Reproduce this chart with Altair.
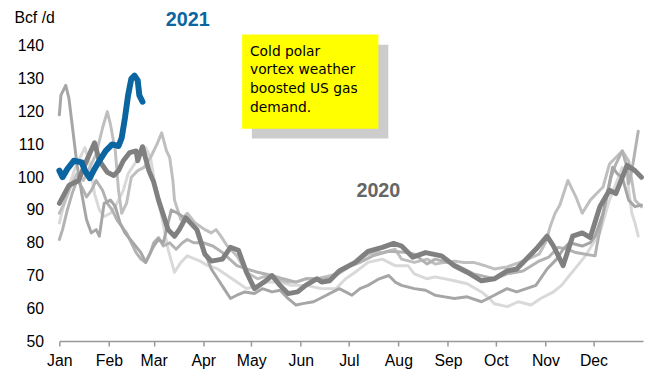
import altair as alt
import pandas as pd

# ---------------- data ----------------
month_names = ["Jan", "Feb", "Mar", "Apr", "May", "Jun", "Jul", "Aug", "Sep", "Oct", "Nov", "Dec"]
month_start_days = [0, 31, 59, 90, 120, 151, 181, 212, 243, 273, 304, 334]
y_ticks = [50, 60, 70, 80, 90, 100, 110, 120, 130, 140]

# historical years (grey spaghetti), day-of-year vs Bcf/d
hist_a_days = [0, 1, 4, 6, 9, 11, 14, 17, 20, 23, 25, 28, 32, 35, 38, 41, 46, 51, 54, 59,
               62, 65, 70, 74, 80, 87, 91, 95, 99, 103, 107, 111, 116, 122, 127, 133, 138, 143, 148, 153,
               159, 167, 175, 179, 183, 188, 193, 200, 206, 210, 214, 222, 229, 235, 241, 247, 255, 264, 268, 272,
               276, 280, 286, 292, 298, 305, 311, 315, 319, 327, 332, 335, 340, 343, 346, 349, 352, 356, 360, 364]
hist_a_vals = [119, 125, 128, 124, 112, 104, 95, 87, 83, 84, 82, 92, 93, 91, 86, 83, 80, 77, 74, 79,
               81, 80, 90, 89, 87, 83, 77, 72, 69, 66, 63, 64, 65, 64.5, 66, 65, 65.5, 63, 61, 61.5,
               62, 64, 66, 65, 64, 66, 67, 69, 70, 68, 67, 66, 65.5, 64, 63.5, 63, 63.5, 62, 63, 64,
               65, 66, 65, 66, 67, 72, 75, 78, 80, 79, 80, 82, 89, 96, 103, 101, 100, 93, 91, 91.5]

hist_b_days = [0, 3, 7, 11, 15, 20, 23, 27, 30, 32, 35, 37, 39, 42, 45, 49, 53, 57, 61, 64,
               67, 69, 71, 72, 76, 80, 85, 91, 95, 98, 101, 105, 111, 117, 124, 130, 136, 142, 148, 154,
               161, 170, 179, 185, 193, 198, 202, 210, 214, 222, 230, 235, 241, 247, 253, 259, 266, 272, 280, 290,
               300, 304, 307, 310, 313, 318, 323, 327, 332, 336, 340, 344, 348, 352, 356, 360, 364]
hist_b_vals = [89, 92, 97, 101, 99, 104, 107, 115, 120, 116, 108, 96, 89, 92, 100, 102, 103, 106, 110, 113.5,
               108, 106, 99, 93, 87, 89, 86, 84, 83, 84, 82, 79, 76, 71, 69, 70, 69, 68, 68, 69,
               69, 70, 72, 74, 76.5, 77, 77, 78, 75, 74, 75, 73.5, 74, 74.4, 74, 74, 73, 72, 72.6, 74.4,
               76.5, 80, 85, 89, 91.5, 99, 94, 89, 93, 95, 97, 104, 106, 108, 105, 93, 91]

hist_c_days = [0, 2, 6, 10, 14, 16, 19, 22, 25, 28, 32, 36, 40, 43, 47, 51, 54, 57, 60, 64,
               68, 72, 76, 80, 85, 88, 93, 99, 105, 111, 117, 124, 130, 138, 145, 154, 164, 173, 179, 185,
               193, 202, 210, 218, 222, 230, 235, 247, 255, 264, 269, 272, 280, 287, 295, 301, 309, 314, 319, 324,
               329, 334, 338, 341, 344, 348, 352, 355, 358, 360, 362]
hist_c_vals = [86, 90, 97, 103, 107, 109, 104, 95, 90, 88, 89, 92, 96, 101, 104, 107, 109, 106, 97, 88,
               78, 71, 74, 76, 75, 74.4, 73, 72, 70, 68, 66, 67, 68, 68, 67, 67, 66, 66, 69, 71,
               74, 75, 73, 73, 70.5, 69, 69.6, 68.4, 67.5, 65, 63, 61.4, 60.5, 62, 61, 63, 65, 67, 70, 73,
               76, 80, 83, 88, 93, 98, 103, 100, 89, 86, 82]

hist_d_days = [0, 2, 5, 8, 11, 14, 17, 20, 23, 27, 30, 33, 36, 39, 42, 45, 48, 51, 54, 57,
               59, 62, 65, 69, 73, 77, 80, 84, 90, 96, 102, 111, 117, 124, 133, 140, 148, 154, 161, 169,
               176, 181, 188, 196, 206, 218, 222, 230, 235, 247, 259, 272, 280, 290, 300, 306, 312, 318, 323, 329,
               335, 338, 342, 345, 348, 352, 355, 356, 358, 360, 362]
hist_d_vals = [81, 84, 90, 95, 99, 97, 94, 96, 99, 96, 92, 90, 87, 85, 83, 80, 77, 75, 74, 77,
               80, 81.6, 79, 80, 78, 80, 81, 80, 80, 79, 77, 73, 72, 71, 70, 69, 68, 69, 69, 69,
               71, 72.6, 74, 76, 77.4, 77, 76.5, 73.5, 75, 73.5, 70.5, 69, 70.5, 71.4, 74.4, 75.6, 78.6, 78, 77, 76.5,
               76, 84, 93, 100, 104, 108, 103, 98, 102, 108, 114]

y2020_days = [0, 6, 12, 17, 22, 25, 30, 34, 37, 40, 44, 48, 49, 52, 56, 59, 62, 65, 68, 72,
              75, 79, 86, 91, 95, 102, 107, 112, 117, 122, 128, 133, 138, 143, 149, 154, 161, 164, 169, 175,
              185, 193, 202, 209, 214, 221, 229, 239, 247, 255, 264, 272, 280, 286, 298, 305, 309, 315, 321, 327,
              332, 338, 344, 348, 355, 360, 364]
y2020_vals = [92, 97.5, 99, 105, 110.5, 105, 101.5, 100.5, 102, 105, 107.5, 108, 105, 109.3, 102, 98.5, 93, 88.5, 84, 82,
              84, 87.6, 84, 76.5, 74.4, 75, 78.6, 77.7, 71, 66, 68, 70, 67, 64.5, 65, 67, 69, 68, 68.4, 71.4,
              74, 77.4, 78.6, 79.8, 79, 75.6, 77, 76, 73, 71, 68.4, 69, 71.4, 72, 78, 82, 79, 73, 82, 83,
              81.6, 91, 96, 95, 103.6, 102, 100]

y2021_days = [0, 2, 5, 9, 14, 16, 19, 22, 25, 29, 33, 37, 39, 41, 43, 45, 47, 49, 50, 52]
y2021_vals = [102, 100, 102.5, 105, 104.5, 102, 99.7, 102.5, 105, 108, 110, 109.5, 112, 118, 125, 130, 131, 129.5, 125, 123]

# annotations
note_lines = ["Cold polar", "vortex weather", "boosted US gas", "demand."]

# ---------------- chart ----------------
FONT = "Liberation Sans"
label_expr = "[" + ",".join("'%s'" % m for m in month_names) + "][indexof([" + \
    ",".join(str(d) for d in month_start_days) + "], datum.value)]"

x_scale = alt.Scale(domain=[0, 365], nice=False, zero=False)
y_scale = alt.Scale(domain=[50, 150], nice=False, zero=False)

x_axis = alt.Axis(values=month_start_days, labelExpr=label_expr, title=None, grid=False,
                  domainColor="#999999", domainWidth=1.5, tickColor="#999999", tickWidth=1.5,
                  tickSize=5, labelPadding=7, labelFlush=False, labelOverlap=False,
                  labelFont=FONT, labelFontSize=16, labelColor="#000000")
y_axis = alt.Axis(values=y_ticks, title="Bcf /d", titleAngle=0, titleX=-46, titleY=4,
                  titleAlign="left", titleBaseline="middle", titleFont=FONT, titleFontSize=16,
                  titleFontWeight="normal", titleColor="#000000", domain=False, ticks=False,
                  tickSize=0, grid=False, labelPadding=16, labelFlush=False, labelOverlap=False,
                  labelFont=FONT, labelFontSize=16, labelColor="#000000")

X = lambda f: alt.X(f, type="quantitative", scale=x_scale, axis=x_axis)
Y = lambda f: alt.Y(f, type="quantitative", scale=y_scale, axis=y_axis)

layers = []

# annotation box (shadow + yellow box) in data coordinates
box = pd.DataFrame({"x": [120.4, 114.3], "x2": [205.7, 199.5], "y": [140.4, 143.5], "y2": [111.8, 114.8],
                    "kind": ["shadow", "box"]})
layers.append(alt.Chart(box).mark_rect().encode(
    x=X("x"), x2="x2", y=Y("y"), y2="y2",
    color=alt.Color("kind:N", scale=alt.Scale(domain=["shadow", "box"], range=["#cccccc", "#ffff00"]), legend=None)
))
note_df = pd.DataFrame({"t": note_lines, "x": [119.2] * 4,
                        "y": [138.3 - i * 5.73 for i in range(len(note_lines))]})
layers.append(alt.Chart(note_df).mark_text(align="left", baseline="middle", fontSize=14,
                                           font="DejaVu Sans", color="#000000").encode(
    x=X("x"), y=Y("y"), text="t:N"))

series = [
    (hist_c_days, hist_c_vals, "#d9d9d9", 3),
    (hist_b_days, hist_b_vals, "#bfbfbf", 3),
    (hist_d_days, hist_d_vals, "#b2b2b2", 3),
    (hist_a_days, hist_a_vals, "#a6a6a6", 3),
    (y2020_days, y2020_vals, "#808080", 5),
    (y2021_days, y2021_vals, "#0a65a0", 6),
]
for days, vals, col, w in series:
    d = pd.DataFrame({"day": days, "value": vals})
    layers.append(alt.Chart(d).mark_line(color=col, strokeWidth=w, strokeCap="round", strokeJoin="round").encode(
        x=X("day"), y=Y("value")))

labels = pd.DataFrame({"t": ["2021", "2020"], "x": [80.3, 199.5], "y": [148.0, 95.8],
                       "c": ["#0a65a0", "#666666"]})
layers.append(alt.Chart(labels).mark_text(fontSize=20, fontWeight="bold", font=FONT,
                                          align="center", baseline="middle").encode(
    x=X("x"), y=Y("y"), text="t:N", color=alt.Color("c:N", scale=None)))

chart = alt.layer(*layers).properties(
    width=591, height=332,
    autosize=alt.AutoSizeParams(type="none"),
    padding={"left": 52, "top": 3, "right": 2, "bottom": 29},
).configure_view(stroke=None)

chart.save("out.html", embed_options={"renderer": "svg", "actions": False})
